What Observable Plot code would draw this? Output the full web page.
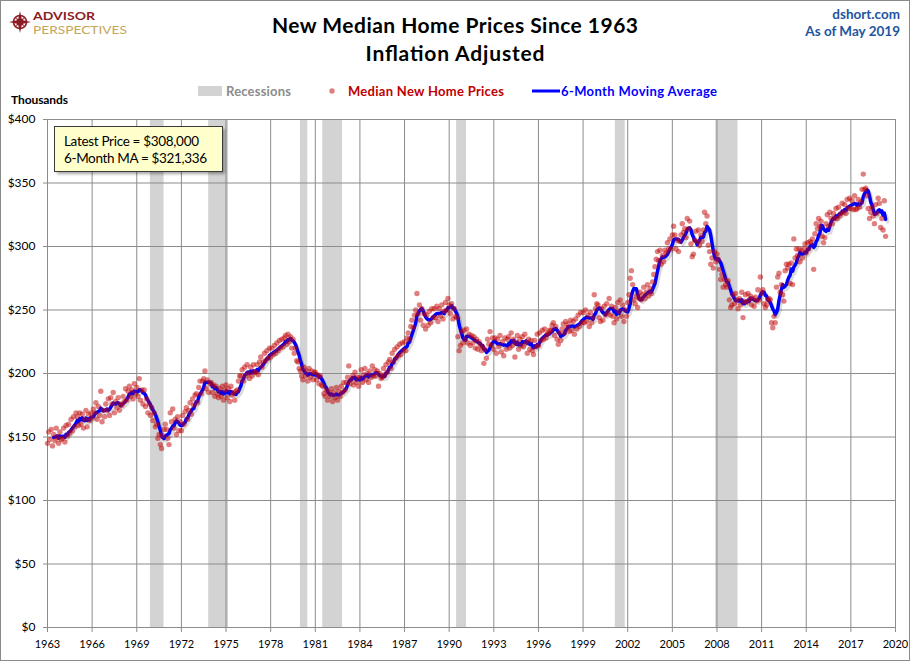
<!DOCTYPE html>
<html>
<head>
<meta charset="utf-8">
<script src="https://cdn.jsdelivr.net/npm/d3@7"></script>
<script src="https://cdn.jsdelivr.net/npm/@observablehq/plot@0.6"></script>
<style>
html, body { margin: 0; padding: 0; background: #fff; }
#wrap { position: relative; width: 910px; height: 661px; overflow: hidden; background: #fff; font-family: Lato, "Open Sans", sans-serif; }
#chart { position: absolute; left: 0; top: 0; }
#overlay { position: absolute; left: 0; top: 0; pointer-events: none; }
#frame { position: absolute; left: 0; top: 0; width: 910px; height: 661px; box-sizing: border-box; border: 1px solid #8a8a8a; pointer-events: none; }
</style>
</head>
<body>
<div id="wrap">
  <div id="chart"></div>
  <svg id="overlay" width="910" height="661" xmlns="http://www.w3.org/2000/svg" font-family="Lato, 'Open Sans', sans-serif">
    <defs>
      <filter id="boxShadow" x="-10%" y="-20%" width="130%" height="160%">
        <feGaussianBlur stdDeviation="1.5"/>
      </filter>
    </defs>
    <!-- logo -->
    <g>
      <circle cx="20" cy="22" r="6.5" fill="none" stroke="#8b1c24" stroke-width="1.6"/>
      <polygon points="20,11 22,20 31,22 22,24 20,33 18,24 9,22 18,20" fill="#8b1c24"/>
      <polygon points="20,16 21.5,20.5 26,22 21.5,23.5 20,28 18.5,23.5 14,22 18.5,20.5" fill="#8b1c24" transform="rotate(45 20 22)"/>
      <text x="33" y="20" font-size="12" font-weight="bold" fill="#8b1c24" textLength="62" lengthAdjust="spacingAndGlyphs">ADVISOR</text>
      <text x="33" y="33.5" font-size="11" fill="#c6a659" textLength="94" lengthAdjust="spacingAndGlyphs">PERSPECTIVES</text>
    </g>
    <!-- title -->
    <text id="title1" x="455" y="33" text-anchor="middle" font-size="21" font-weight="bold" fill="#000" textLength="366" lengthAdjust="spacing"></text>
    <text id="title2" x="455" y="61" text-anchor="middle" font-size="21" font-weight="bold" fill="#000" textLength="179" lengthAdjust="spacing"></text>
    <!-- source -->
    <text id="src1" x="900" y="19" text-anchor="end" font-size="13.5" font-weight="bold" fill="#2254a0"></text>
    <text id="src2" x="900" y="36" text-anchor="end" font-size="13.5" font-weight="bold" fill="#2254a0"></text>
    <!-- legend -->
    <rect x="198" y="86" width="24" height="10" fill="#d3d3d3"/>
    <text id="lg1" x="226" y="96" font-size="13" font-weight="bold" fill="#8c8c8c" textLength="65" lengthAdjust="spacing"></text>
    <circle cx="332" cy="91" r="2.7" fill="#c00000" fill-opacity="0.5"/>
    <text id="lg2" x="348" y="96" font-size="13" font-weight="bold" fill="#c00000" textLength="156" lengthAdjust="spacing"></text>
    <line x1="532" x2="560" y1="91" y2="91" stroke="#0000ff" stroke-width="3"/>
    <text id="lg3" x="561" y="96" font-size="13" font-weight="bold" fill="#0000ff" textLength="156" lengthAdjust="spacing"></text>
    <!-- units -->
    <text id="units" x="11" y="104" font-size="12" font-weight="bold" fill="#000" textLength="57" lengthAdjust="spacing"></text>
    <!-- annotation -->
    <rect x="57" y="129" width="168" height="45" fill="#000" fill-opacity="0.35" filter="url(#boxShadow)"/>
    <rect x="54.5" y="126.5" width="168" height="45" fill="#ffffcc" stroke="#3a3a3a" stroke-width="1"/>
    <text id="note1" x="64" y="146" font-size="13.5" fill="#000" textLength="135" lengthAdjust="spacing"></text>
    <text id="note2" x="64" y="163" font-size="13.5" fill="#000" textLength="143" lengthAdjust="spacing"></text>
  </svg>
  <div id="frame"></div>
</div>
<script>
// ---- Data (thousands of inflation-adjusted dollars, monthly from Jan 1963) ----
const startYear = 1963;
const prices1960s = [
  145,154,148,156,143,152,147,157,150,145,154,148,
  149,157,146,159,151,160,153,164,155,166,158,169,
  166,159,169,160,168,157,164,171,158,168,163,169,
  165,172,169,177,164,174,167,186,162,171,166,176,
  171,180,167,181,176,185,169,178,173,181,171,176,
  175,182,178,188,179,186,190,182,187,180,192,184,
  189,182,196,179,187,176,187,174,180,169,176,167
];
const prices1970s = [
  173,163,169,158,160,149,152,144,141,151,156,160,
  156,149,144,169,162,172,157,164,152,166,155,162,
  155,167,160,170,173,164,171,177,168,180,175,183,
  184,177,189,194,184,194,196,202,188,195,185,192,
  193,185,191,182,190,184,181,188,182,190,179,187,
  191,181,188,178,190,183,185,179,186,187,194,198,
  198,203,194,205,198,207,200,196,205,198,207,201,
  201,207,199,209,213,205,209,216,210,218,212,220,
  213,220,215,222,216,224,218,226,220,227,221,228,
  230,223,231,225,229,220,227,216,220,210,209,204
];
const prices1980s = [
  202,198,195,205,198,202,194,204,197,202,195,201,
  201,195,199,192,198,191,190,184,182,187,179,185,
  182,188,178,185,181,189,179,186,182,190,185,193,
  187,193,197,206,192,195,198,191,201,193,197,190,
  197,203,193,199,204,195,200,193,202,197,206,198,
  203,198,202,190,200,196,197,204,199,207,201,209,
  211,204,216,209,219,212,221,214,223,215,224,218,
  225,218,228,232,227,237,242,236,246,250,263,247,
  254,242,251,238,247,235,246,238,249,240,251,244,
  251,244,253,241,251,245,254,243,249,256,250,259
];
const prices1990s = [
  254,247,255,243,251,245,244,229,218,222,233,224,
  234,227,235,224,231,222,230,224,229,220,227,219,
  225,222,218,221,208,219,212,227,223,233,222,228,
  219,228,216,227,221,230,217,225,214,228,219,227,
  229,220,232,222,227,213,224,230,219,227,222,229,
  221,231,224,216,227,219,226,218,215,226,221,231,
  222,232,226,234,227,235,228,231,232,234,234,238,
  240,230,237,227,223,232,226,235,239,232,241,236,
  239,233,242,234,241,231,243,235,246,237,248,240,
  248,240,250,241,246,237,248,240,244,262,251,255
];
const prices2000s = [
  254,244,241,251,242,253,246,255,248,259,246,253,
  245,240,252,243,256,249,258,245,254,241,250,245,
  256,262,275,281,270,258,255,261,252,259,264,258,
  262,268,259,264,270,261,267,263,272,278,284,290,
  296,289,297,286,293,288,297,295,303,298,306,298,
  309,316,309,298,305,296,304,309,318,311,314,307,
  322,314,320,302,292,294,305,312,304,313,301,309,
  304,313,327,318,324,301,296,286,291,283,296,288,
  294,290,282,274,278,268,274,270,268,273,258,252,
  254,262,255,263,258,251,259,254,264,244,257,262
];
const prices2010s = [
  256,263,258,261,254,259,253,260,257,266,258,276,
  263,266,255,252,254,258,259,258,240,236,245,240,
  268,276,279,264,270,262,257,281,286,283,286,271,
  287,270,306,291,298,293,298,288,297,291,298,302,
  295,303,298,304,303,306,282,310,318,314,322,316,
  320,308,303,307,318,325,316,327,322,318,326,322,
  330,322,331,324,326,334,327,333,326,337,330,338,
  330,336,329,340,329,330,337,331,335,345,357,345,
  346,340,330,322,327,331,324,318,333,326,338,334,
  315,322,313,336,308
];
// NBER recessions (year, month) start / end
const recessionStarts = [[1969,12],[1973,11],[1980,1],[1981,7],[1990,7],[2001,3],[2007,12]];
const recessionEnds   = [[1970,11],[1975,3],[1980,7],[1982,11],[1991,3],[2001,11],[2009,6]];
const xTicks = d3.range(1963, 2021, 3);
const yTicks = d3.range(0, 401, 50);
const titleLines = ["New Median Home Prices Since 1963", "Inflation Adjusted"];
const sourceLines = ["dshort.com", "As of May 2019"];
const legendLabels = ["Recessions", "Median New Home Prices", "6-Month Moving Average"];
const unitsLabel = "Thousands";
const latestPrice = 308000;
const latestMA = 321336;

// ---- Build tables ----
const prices = [].concat(prices1960s, prices1970s, prices1980s, prices1990s, prices2000s, prices2010s);
const series = prices.map((v, i) => ({t: startYear + i / 12, price: v}));
const ym = ([y, m]) => y + (m - 1) / 12;
const recessions = recessionStarts.map((s, i) => ({start: ym(s), end: ym(recessionEnds[i])}));

const gridColor = "#8c8c8c";
const chart = Plot.plot({
  width: 910,
  height: 661,
  marginLeft: 47,
  marginRight: 15,
  marginTop: 119,
  marginBottom: 34,
  x: {type: "linear", domain: [1963, 2020]},
  y: {domain: [0, 400]},
  style: {fontFamily: "Lato, 'Open Sans', sans-serif", color: "#000", background: "transparent", overflow: "visible"},
  marks: [
    Plot.rect(recessions, {x1: "start", x2: "end", y1: 0, y2: 400, fill: "#d3d3d3"}),
    Plot.gridX(xTicks, {stroke: gridColor, strokeOpacity: 1, strokeWidth: 1}),
    Plot.gridY(yTicks, {stroke: gridColor, strokeOpacity: 1, strokeWidth: 1}),
    Plot.axisX(xTicks, {tickSize: 5, stroke: gridColor, strokeOpacity: 1, text: null, label: null}),
    Plot.axisX(xTicks, {tickSize: 0, tickPadding: 13, tickFormat: d => String(d), fontSize: 11, fill: "#000", label: null}),
    Plot.axisY(yTicks, {tickSize: 4, stroke: gridColor, strokeOpacity: 1, text: null, label: null}),
    Plot.axisY(yTicks, {tickSize: 0, tickPadding: 12, tickFormat: d => "$" + d, fontSize: 12, fill: "#000", label: null}),
    Plot.line(series, Plot.windowY({k: 6, anchor: "end", reduce: "mean", strict: true},
      {x: "t", y: "price", stroke: "#000", strokeOpacity: 0.14, strokeWidth: 3.5, dx: 2, dy: 2.5, strokeLinejoin: "round", strokeLinecap: "round"})),
    Plot.line(series, Plot.windowY({k: 6, anchor: "end", reduce: "mean", strict: true},
      {x: "t", y: "price", stroke: "#0000ff", strokeWidth: 3.5, strokeLinejoin: "round", strokeLinecap: "round"})),
    Plot.dot(series, {x: "t", y: "price", r: 2.7, fill: "#c00000", fillOpacity: 0.5, stroke: "none"})
  ]
});
document.getElementById("chart").appendChild(chart);

// ---- Texts ----
const setText = (id, s) => { document.getElementById(id).textContent = s; };
setText("title1", titleLines[0]);
setText("title2", titleLines[1]);
setText("src1", sourceLines[0]);
setText("src2", sourceLines[1]);
setText("lg1", legendLabels[0]);
setText("lg2", legendLabels[1]);
setText("lg3", legendLabels[2]);
setText("units", unitsLabel);
const fmt = d3.format("$,");
setText("note1", "Latest Price = " + fmt(latestPrice));
setText("note2", "6-Month MA = " + fmt(latestMA));
</script>
</body>
</html>
